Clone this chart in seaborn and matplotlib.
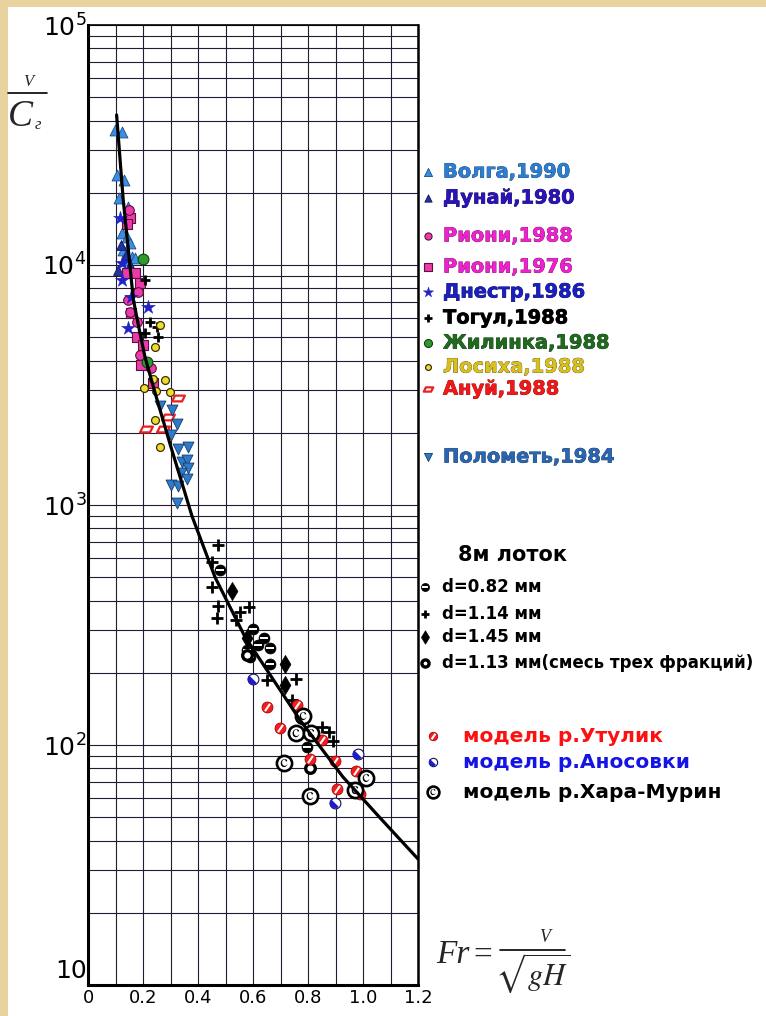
import numpy as np
import matplotlib
matplotlib.use("Agg")
import matplotlib.pyplot as plt
import seaborn as sns
from matplotlib.path import Path
from matplotlib.markers import MarkerStyle
from matplotlib.transforms import Affine2D, ScaledTranslation
from matplotlib.patches import Rectangle
from matplotlib.ticker import FixedLocator, LogLocator, NullFormatter
import matplotlib.patheffects as pe

sns.set_theme(style="white")
plt.rcParams["font.family"] = ["DejaVu Sans"]
plt.rcParams["mathtext.fontset"] = "stix"

# ---------------- data (Fr, V/Cг) ----------------
curve_x = [0.104, 0.128, 0.147, 0.165, 0.189, 0.207, 0.244, 0.298, 0.345, 0.378, 0.462, 0.571, 0.771, 0.927, 1.06, 1.2]
curve_y = [42200, 18700, 11500, 7150, 5200, 4150, 2930, 1800, 1200, 900, 500, 282, 127, 73.6, 50, 33.5]

volga_x = [0.098, 0.124, 0.105, 0.131, 0.113, 0.145, 0.124, 0.142, 0.153, 0.127, 0.160, 0.142, 0.171]
volga_y = [36500, 35800, 23700, 22600, 19000, 17450, 13600, 13100, 12350, 11550, 10800, 10500, 10700]

dunai_x = [0.120, 0.138, 0.153, 0.109]
dunai_y = [12100, 11000, 10000, 9530]

rioni88_x = [0.149, 0.145, 0.153, 0.178, 0.182, 0.189, 0.229]
rioni88_y = [16900, 7150, 6370, 5790, 7720, 4220, 3720]

rioni76_x = [0.153, 0.142, 0.142, 0.171, 0.189, 0.178, 0.200, 0.193, 0.236, 0.156]
rioni76_y = [15700, 14800, 9270, 9270, 8410, 5010, 4640, 3830, 3220, 6310]

dnestr_x = [0.116, 0.124, 0.124, 0.156, 0.218, 0.145]
dnestr_y = [15700, 10190, 8660, 7360, 6680, 5460]

togul_x = [0.207, 0.250, 0.255, 0.207, 0.225]
togul_y = [8660, 5520, 5010, 5210, 5790]

zhil_x = [0.200, 0.215]
zhil_y = [10600, 3950]

losikha_x = [0.262, 0.244, 0.236, 0.280, 0.204, 0.247, 0.298, 0.244, 0.262]
losikha_y = [5620, 4550, 3350, 3320, 3070, 2985, 2960, 2260, 1745]

anui_x = [0.327, 0.291, 0.211, 0.273]
anui_y = [2790, 2330, 2070, 2070]

polomet_x = [0.262, 0.305, 0.324, 0.302, 0.327, 0.364, 0.342, 0.360, 0.364, 0.338, 0.360, 0.302, 0.327, 0.324]
polomet_y = [2585, 2490, 2175, 1950, 1710, 1745, 1510, 1540, 1425, 1360, 1282, 1211, 1200, 1020]

d082_x = [0.480, 0.600, 0.640, 0.618, 0.662, 0.578, 0.589, 0.662, 0.796]
d082_y = [536, 304, 279, 261, 253, 249, 233, 217, 98]

d114_x = [0.473, 0.451, 0.451, 0.473, 0.469, 0.553, 0.585, 0.538, 0.651, 0.756, 0.742, 0.851, 0.876, 0.891]
d114_y = [681, 579, 455, 379, 338, 358, 376, 332, 187, 188, 154, 119, 113, 104]

d145_x = [0.524, 0.578, 0.716, 0.716]
d145_y = [438, 279, 217, 178]

d113_x = [0.807, 0.578]
d113_y = [80, 237]

utulik_x = [0.651, 0.760, 0.698, 0.851, 0.807, 0.898, 0.975, 0.905, 0.989]
utulik_y = [144, 147, 118, 105, 87.4, 85.8, 77.9, 65.6, 62.5]

anos_x = [0.600, 0.982, 0.898]
anos_y = [188, 91.7, 57.3]

khara_x = [0.782, 0.756, 0.811, 0.713, 1.011, 0.807, 0.971]
khara_y = [132, 112, 112, 84.1, 72.9, 61.3, 64.9]

x_ticks = [0, 0.2, 0.4, 0.6, 0.8, 1.0, 1.2]
x_tick_labels = ["0", "0.2", "0.4", "0.6", "0.8", "1.0", "1.2"]
y_ticks = [10, 100, 1000, 10000, 100000]
y_tick_labels = ["10", r"$\mathregular{10^2}$", r"$\mathregular{10^3}$",
                 r"$\mathregular{10^4}$", r"$\mathregular{10^5}$"]

# ---------------- marker styles ----------------
para = Path([(-1, -0.45), (0.55, -0.45), (1, 0.45), (-0.55, 0.45), (-1, -0.45)],
            [Path.MOVETO, Path.LINETO, Path.LINETO, Path.LINETO, Path.CLOSEPOLY])
slash = MarkerStyle("_", transform=Affine2D().rotate_deg(55))
half = Path.wedge(135, 315)

ST = {
    "volga": [dict(marker="^", s=62, color="#3b8de0", edgecolor="#1b4c8c", linewidth=0.6)],
    "dunai": [dict(marker="^", s=50, color="#2430a8", edgecolor="#101850", linewidth=0.6)],
    "rioni88": [dict(marker="o", s=48, color="#ec3aa8", edgecolor="#5a1040", linewidth=0.8)],
    "rioni76": [dict(marker="s", s=48, color="#ec3aa8", edgecolor="#5a1040", linewidth=0.8)],
    "dnestr": [dict(marker="*", s=110, color="#2222c8", edgecolor="#2222c8", linewidth=0.3)],
    "togul": [dict(marker="+", s=60, color="black", linewidth=2)],
    "zhil": [dict(marker="o", s=60, color="#2e9a2e", edgecolor="#0f3f0f", linewidth=0.8)],
    "losikha": [dict(marker="o", s=32, color="#f0dc30", edgecolor="#3a3000", linewidth=0.9)],
    "anui": [dict(marker=para, s=85, color="white", edgecolor="#e82020", linewidth=1.6)],
    "polomet": [dict(marker="v", s=62, color="#2f7ac8", edgecolor="#123c6a", linewidth=0.6)],
    "d082": [dict(marker="o", s=62, color="black", edgecolor="black", linewidth=0.5),
             dict(marker="_", s=26, color="white", linewidth=1.4)],
    "d114": [dict(marker="+", s=75, color="black", linewidth=2)],
    "d145": [dict(marker="d", s=85, color="black", edgecolor="black", linewidth=0.5)],
    "d113": [dict(marker="o", s=48, color="white", edgecolor="black", linewidth=2.4)],
    "utulik": [dict(marker="o", s=62, color="#f01e1e", edgecolor="#b00000", linewidth=0.6),
               dict(marker=slash, s=40, color="white", linewidth=1.5)],
    "anos": [dict(marker="o", s=60, color="white", edgecolor="#10105a", linewidth=0.8),
             dict(marker=half, s=60, color="#1c1cc8", edgecolor="none", linewidth=0)],
    "khara": [dict(marker="o", s=120, color="white", edgecolor="black", linewidth=1.9),
              dict(marker=r"$\mathrm{c}$", s=34, color="black", edgecolor="none", linewidth=0)],
}


def draw(axis, xs, ys, key, scale=1.0, z=3):
    for L in ST[key]:
        kw = dict(L)
        kw["s"] = kw["s"] * scale
        sns.scatterplot(x=xs, y=ys, ax=axis, zorder=z, legend=False, **kw)


W, H = 766, 1016
fig = plt.figure(figsize=(W / 100, H / 100), dpi=100)
fig.patch.set_facecolor("#E8D29E")

bg = fig.add_axes([0, 0, 1, 1], zorder=0)
bg.set_xlim(0, W)
bg.set_ylim(H, 0)
bg.axis("off")
bg.add_patch(Rectangle((8, 7), W - 8, H - 7, facecolor="white", edgecolor="none"))

ax = fig.add_axes([88 / W, 1 - 985 / H, 330 / W, 960 / H], zorder=1)
ax.set_facecolor("white")

sns.lineplot(x=curve_x, y=curve_y, ax=ax, color="black", linewidth=2.3, sort=False,
             estimator=None, zorder=4)

series = [("volga", volga_x, volga_y), ("dunai", dunai_x, dunai_y),
          ("rioni76", rioni76_x, rioni76_y), ("rioni88", rioni88_x, rioni88_y),
          ("dnestr", dnestr_x, dnestr_y), ("togul", togul_x, togul_y),
          ("zhil", zhil_x, zhil_y), ("losikha", losikha_x, losikha_y),
          ("anui", anui_x, anui_y), ("polomet", polomet_x, polomet_y),
          ("d082", d082_x, d082_y), ("d114", d114_x, d114_y), ("d145", d145_x, d145_y),
          ("d113", d113_x, d113_y), ("utulik", utulik_x, utulik_y),
          ("anos", anos_x, anos_y), ("khara", khara_x, khara_y)]
for key, xs, ys in series:
    draw(ax, xs, ys, key)

ax.set_yscale("log")
ax.set_xlim(0, 1.2)
ax.set_ylim(10, 1e5)
ax.set_xticks(x_ticks)
ax.set_xticklabels(x_tick_labels, fontsize=13, color="black")
ax.set_xticks(np.arange(0.1, 1.2, 0.2), minor=True)
ax.yaxis.set_major_locator(FixedLocator(y_ticks))
ax.set_yticklabels(y_tick_labels, fontsize=18, color="black")
ax.yaxis.set_minor_locator(LogLocator(base=10, subs=np.arange(2, 10)))
ax.yaxis.set_minor_formatter(NullFormatter())
ax.grid(True, which="both", color="#231a33", linewidth=0.8)
ax.tick_params(which="both", length=0)
ax.tick_params(axis="x", pad=3)
ax.tick_params(axis="y", pad=1)
ax.set_xlabel("")
ax.set_ylabel("")
for side, lw in [("left", 2.2), ("bottom", 2.2), ("right", 1.8), ("top", 1.2)]:
    ax.spines[side].set_visible(True)
    ax.spines[side].set_color("black")
    ax.spines[side].set_linewidth(lw)

# lift the bottom "10" label a little, as in the reference
lab10 = ax.get_yticklabels()[0]
lab10.set_transform(lab10.get_transform() + ScaledTranslation(0, 12 / 72, fig.dpi_scale_trans))

# ---------------- legend (text + sample markers) ----------------
legend_rows = [
    ("volga", "Волга,1990", "#2c7fd0", "#12386a", 172),
    ("dunai", "Дунай,1980", "#2a14b8", "#0c0850", 198),
    ("rioni88", "Риони,1988", "#ee22cc", "#6a0a5a", 236),
    ("rioni76", "Риони,1976", "#ee22cc", "#6a0a5a", 267),
    ("dnestr", "Днестр,1986", "#1a20c0", "#0a0c50", 292),
    ("togul", "Тогул,1988", "black", "black", 318),
    ("zhil", "Жилинка,1988", "#1f6a1f", "#0a2a0a", 343),
    ("losikha", "Лосиха,1988", "#d8c020", "#5a4a00", 367),
    ("anui", "Ануй,1988", "#f01818", "#8a0000", 389),
    ("polomet", "Полометь,1984", "#2a66b0", "#10305a", 457),
]
for key, label, col, dark, yy in legend_rows:
    draw(bg, [428], [yy], key, scale=0.55, z=3)
    bg.text(443, yy, label, color=col, fontsize=14, fontweight="bold", va="center",
            ha="left", path_effects=[pe.withStroke(linewidth=0.5, foreground=dark)])

bg.text(458, 555, "8м лоток", color="black", fontsize=15, fontweight="bold",
        va="center", ha="left")
lotok_rows = [("d082", "d=0.82 мм", 587), ("d114", "d=1.14 мм", 614),
              ("d145", "d=1.45 мм", 637), ("d113", "d=1.13 мм(смесь трех фракций)", 663)]
for key, label, yy in lotok_rows:
    draw(bg, [425], [yy], key, scale=0.55, z=3)
    bg.text(442, yy, label, color="black", fontsize=12, fontweight="bold",
            va="center", ha="left")

model_rows = [("utulik", "модель р.Утулик", "#ff1010", 736),
              ("anos", "модель р.Аносовки", "#1414e6", 762),
              ("khara", "модель р.Хара-Мурин", "black", 792)]
for key, label, col, yy in model_rows:
    draw(bg, [433], [yy], key, scale=0.6, z=3)
    bg.text(463, yy, label, color=col, fontsize=14.5, fontweight="bold",
            va="center", ha="left")

# ---------------- axis titles ----------------
serif = ["Liberation Serif", "DejaVu Serif"]
bg.text(28, 82, "V", family=serif, style="italic", fontsize=12, ha="center", va="center")
bg.plot([8, 47], [93, 93], color="black", linewidth=1.2)
bg.text(20, 117, "C", family=serif, style="italic", fontsize=27, ha="center", va="center")
bg.text(38, 125, "г", family=serif, style="italic", fontsize=12, ha="center", va="center")

bg.text(436, 955, "Fr", family=serif, style="italic", fontsize=24, ha="left", va="center")
bg.text(473, 955, "=", family=serif, fontsize=24, ha="left", va="center")
bg.text(545, 938, "V", family=serif, style="italic", fontsize=13, ha="center", va="center")
bg.plot([500, 565], [950, 950], color="black", linewidth=1.2)
bg.text(533, 973, r"$\sqrt{gH}$", fontsize=22, ha="center", va="center")

fig.savefig("out.png", dpi=100, facecolor=fig.get_facecolor())
